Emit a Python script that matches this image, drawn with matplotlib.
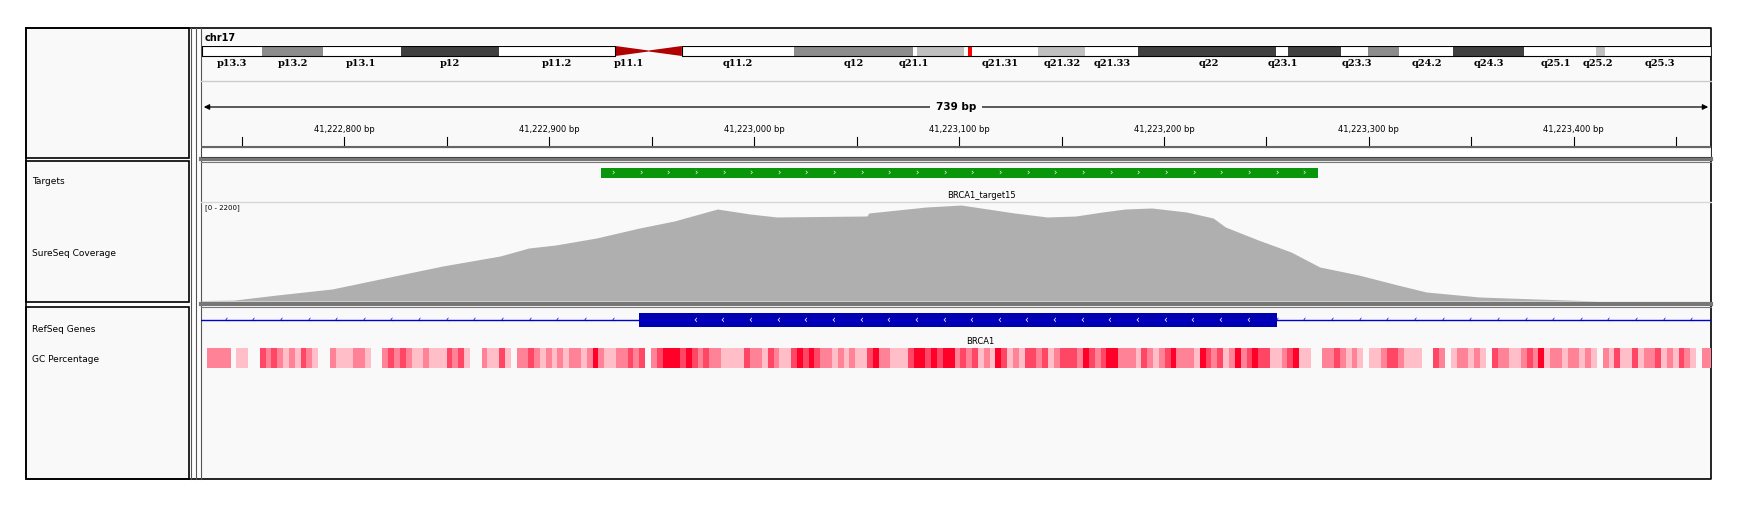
import matplotlib
matplotlib.use('Agg')
import matplotlib.pyplot as plt
import numpy as np

W, H = 1739, 511

# genomic window
view_start = 41222730
view_end = 41223467
tick_bp = [41222800, 41222900, 41223000, 41223100, 41223200, 41223300, 41223400]

# chr17 ideogram bands (fraction along chromosome), shade
band_edges = [0.0, 0.040, 0.080, 0.132, 0.197, 0.274, 0.296, 0.318, 0.392, 0.471, 0.474,
              0.505, 0.554, 0.585, 0.620, 0.712, 0.720, 0.755, 0.773, 0.793, 0.829, 0.876,
              0.924, 0.930, 1.0]
band_shade = ['w', 'g', 'w', 'd', 'w', 'cen1', 'cen2', 'w', 'g', 'w', 'l', 'w', 'l', 'w', 'd',
              'w', 'd', 'w', 'g', 'w', 'd', 'w', 'l', 'w']
label_names = ['p13.3', 'p13.2', 'p13.1', 'p12', 'p11.2', 'p11.1', 'q11.2', 'q12', 'q21.1',
               'q21.31', 'q21.32', 'q21.33', 'q22', 'q23.1', 'q23.3', 'q24.2', 'q24.3',
               'q25.1', 'q25.2', 'q25.3']
label_pos = [0.020, 0.060, 0.105, 0.164, 0.235, 0.283, 0.355, 0.432, 0.472, 0.529, 0.570,
             0.603, 0.667, 0.716, 0.765, 0.812, 0.853, 0.897, 0.925, 0.966]
cur_pos = 0.509

target_start, target_end = 41222925, 41223275
gene_start, gene_end = 41222944, 41223255

# coverage (bp, depth)
cov_bp = [41222730, 41222746, 41222767, 41222794, 41222822, 41222848, 41222876, 41222890,
          41222903, 41222923, 41222944, 41222961, 41222982, 41222998, 41223011, 41223055,
          41223056, 41223084, 41223101, 41223127, 41223143, 41223157, 41223170, 41223181,
          41223194, 41223211, 41223224, 41223230, 41223246, 41223262, 41223276, 41223295,
          41223314, 41223328, 41223354, 41223382, 41223412, 41223467]
cov_val = [10, 20, 133, 267, 533, 778, 1000, 1178, 1244, 1400, 1622, 1778, 2044, 1933, 1867,
           1889, 1956, 2089, 2133, 1956, 1867, 1889, 1978, 2044, 2067, 1978, 1844, 1644, 1356,
           1089, 756, 578, 356, 200, 89, 44, 0, 0]

# GC percentage level per ~2.85 bp window (0 = none ... 4 = high)
gc_start = 41222733
gc_step = 2.85
gc_levels = ("22220110032321213210021112210023232112111323100211310223212121221242112232302344434323221111322132113434322121211342211134434"
             "3442323121431213323123332432344222132123422214323124234331123411002232121011233211100320122121032211232412212212102131131223121321022")

shade_col = {'w': 'white', 'g': '#8c8c8c', 'd': '#404040', 'l': '#c0c0c0'}
gc_col = {'1': '#ffbec8', '2': '#ff8296', '3': '#ff4664', '4': '#ff0028'}


def rect(x0, y0, x1, y1):
    return [x0 / W, 1 - y1 / H, (x1 - x0) / W, (y1 - y0) / H]


fig = plt.figure(figsize=(W / 100, H / 100), dpi=100)
bg = fig.add_axes([0, 0, 1, 1])
bg.set_xlim(0, W)
bg.set_ylim(H, 0)
bg.axis('off')

X0, X1 = 201, 1711
panel = '#f9f9f9'
# panels
for y0, y1 in [(28, 158), (161, 302), (307, 479)]:
    bg.add_patch(plt.Rectangle((26, y0), 163, y1 - y0, fc=panel, ec='black', lw=1.2))
    bg.add_patch(plt.Rectangle((X0, y0), X1 - X0, y1 - y0, fc=panel, ec='none'))
bg.plot([26, X1, X1, 26, 26], [28, 28, 479, 479, 28], color='black', lw=1.2)
for x in [191, 196, X0]:
    bg.plot([x, x], [28, 479], color='#555555', lw=0.8)
for y in [159.5, 304.5]:
    bg.plot([X0, X1], [y, y], color='#777777', lw=3)
    bg.plot([X0, X1], [y + 2.5, y + 2.5], color='#777777', lw=0.8)
bg.plot([X0, X1], [81, 81], color='#cccccc', lw=1)
bg.plot([X0, X1], [202, 202], color='#d8d8d8', lw=1)

bg.text(205, 38, 'chr17', fontsize=7, fontweight='bold', va='center')
for name, y in [('Targets', 182), ('SureSeq Coverage', 253), ('RefSeq Genes', 329), ('GC Percentage', 359)]:
    bg.text(32, y, name, fontsize=6.5, va='center')

# ideogram
ido = fig.add_axes(rect(202, 46, X1, 70))
ido.set_xlim(0, 1)
ido.set_ylim(24, 0)
ido.axis('off')
for i, s in enumerate(band_shade):
    a, b = band_edges[i], band_edges[i + 1]
    if s == 'cen1':
        ido.add_patch(plt.Polygon([[a, 0], [b, 4.5], [b, 5.5], [a, 10]], fc='#b00000', ec='none'))
    elif s == 'cen2':
        ido.add_patch(plt.Polygon([[b, 0], [a, 4.5], [a, 5.5], [b, 10]], fc='#b00000', ec='none'))
    else:
        ido.add_patch(plt.Rectangle((a, 0), b - a, 10, fc=shade_col[s], ec='none'))
ido.plot([0, band_edges[5], band_edges[5], 0, 0], [0, 0, 10, 10, 0], color='black', lw=0.8)
ido.plot([band_edges[7], 1, 1, band_edges[7], band_edges[7]], [0, 0, 10, 10, 0], color='black', lw=0.8)
ido.add_patch(plt.Rectangle((cur_pos - 0.0015, -1), 0.003, 12, fc='red', ec='none'))
for n, p in zip(label_names, label_pos):
    ido.text(p, 17, n, ha='center', va='center', fontsize=7, fontweight='bold', family='DejaVu Serif')

# ruler
ru = fig.add_axes(rect(X0, 95, X1, 158))
ru.set_xlim(view_start, view_end)
ru.set_ylim(63, 0)
ru.axis('off')
span = view_end - view_start + 2
ru.annotate('', xy=(view_start, 12), xytext=(view_end, 12),
            arrowprops=dict(arrowstyle='<|-|>', color='black', lw=0.9, mutation_scale=8))
ru.text((view_start + view_end) / 2, 12, f'{span} bp', ha='center', va='center', fontsize=7.5,
        fontweight='bold', bbox=dict(fc=panel, ec='none', pad=4))
for t in tick_bp:
    ru.text(t, 34, f'{t:,} bp', ha='center', va='center', fontsize=6)
for t in np.arange(41222750, view_end, 50):
    ru.plot([t, t], [42, 52], color='black', lw=0.8)
ru.plot([view_start, view_end], [52, 52], color='#666666', lw=1.5)
ru.add_patch(plt.Rectangle((view_start, 52), view_end - view_start, 10, fc='white', ec='#444444', lw=0.8))

# targets
ta = fig.add_axes(rect(X0, 163, X1, 200))
ta.set_xlim(view_start, view_end)
ta.set_ylim(37, 0)
ta.axis('off')
ta.add_patch(plt.Rectangle((target_start, 5), target_end - target_start, 10, fc='#0a960a', ec='none'))
for c in np.arange(target_start + 6, target_end, 13.5):
    ta.text(c, 10, '›', color='white', fontsize=6, ha='center', va='center')
ta.text((target_start + target_end) / 2 + 11, 32, 'BRCA1_target15', fontsize=6, ha='center', va='center')

# coverage
co = fig.add_axes(rect(X0, 202, X1, 301))
co.set_xlim(view_start, view_end)
co.set_ylim(0, 2200)
co.axis('off')
co.fill_between(cov_bp, cov_val, 0, color='#afafaf', lw=0)
co.text(view_start + 2, 2080, '[0 - 2200]', fontsize=5, va='center')

# genes
ge = fig.add_axes(rect(X0, 309, X1, 372))
ge.set_xlim(view_start, view_end)
ge.set_ylim(63, 0)
ge.axis('off')
ge.plot([view_start, view_end], [11, 11], color='#0000d0', lw=1)
for c in np.arange(view_start + 12, view_end, 13.5):
    if not gene_start < c < gene_end:
        ge.text(c, 11, '‹', color='#0000d0', fontsize=6, ha='center', va='center')
ge.add_patch(plt.Rectangle((gene_start, 4), gene_end - gene_start, 14, fc='#0000b2', ec='none'))
for c in np.arange(gene_start + 27, gene_end - 5, 13.5):
    ge.text(c, 11, '‹', color='white', fontsize=7, ha='center', va='center')
ge.text((gene_start + gene_end) / 2 + 11, 33, 'BRCA1', fontsize=6, ha='center', va='center')
for i, lv in enumerate(gc_levels):
    if lv != '0':
        ge.add_patch(plt.Rectangle((gc_start + i * gc_step, 39), gc_step, 20, fc=gc_col[lv], ec='none'))

fig.savefig('out.png', dpi=100)
